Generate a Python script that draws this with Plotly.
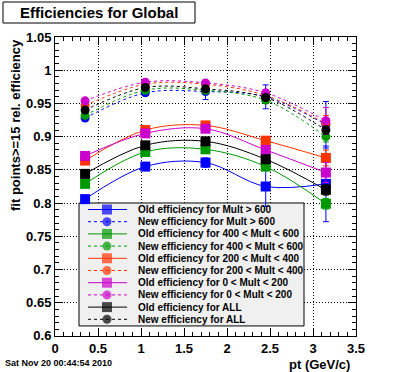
import plotly.graph_objects as go

# ---------------- data ----------------
pt = [0.35, 1.05, 1.75, 2.45, 3.15]

old_600 = [0.806, 0.855, 0.861, 0.825, 0.829]
new_600 = [0.928, 0.966, 0.968, 0.960, 0.918]
old_400 = [0.829, 0.877, 0.881, 0.855, 0.799]
new_400 = [0.932, 0.970, 0.970, 0.955, 0.900]
old_200 = [0.864, 0.910, 0.917, 0.894, 0.868]
new_200 = [0.947, 0.979, 0.979, 0.962, 0.920]
old_0 = [0.871, 0.905, 0.912, 0.880, 0.846]
new_0 = [0.954, 0.982, 0.981, 0.966, 0.924]
old_all = [0.844, 0.887, 0.893, 0.866, 0.820]
new_all = [0.940, 0.974, 0.972, 0.959, 0.910]

err_old_600 = [0.004, 0.004, 0.007, 0.030, 0.057]
err_new_600 = [0.003, 0.004, 0.012, 0.018, 0.035]
err_old_400 = [0.004, 0.004, 0.005, 0.006, 0.008]
err_new_400 = [0.002, 0.003, 0.003, 0.005, 0.008]
err_old_200 = [0.004, 0.004, 0.005, 0.006, 0.012]
err_new_200 = [0.002, 0.002, 0.003, 0.005, 0.012]
err_old_0 = [0.004, 0.004, 0.005, 0.007, 0.015]
err_new_0 = [0.002, 0.002, 0.003, 0.005, 0.020]
err_old_all = [0.002, 0.002, 0.003, 0.004, 0.008]
err_new_all = [0.001, 0.001, 0.002, 0.003, 0.006]

labels = [
    "Old efficiency for Mult > 600",
    "New efficiency for Mult > 600",
    "Old efficiency for 400 < Mult < 600",
    "New efficiency for 400 < Mult < 600",
    "Old efficiency for 200 < Mult < 400",
    "New efficiency for 200 < Mult < 400",
    "Old efficiency for 0 < Mult < 200",
    "New efficiency for 0 < Mult < 200",
    "Old efficiency for ALL",
    "New efficiency for ALL",
]

BLUE, GREEN, ORANGE, MAGENTA, BLACK = "#0000ff", "#009900", "#ff3300", "#cc00cc", "#000000"

series = [
    (old_600, err_old_600, BLUE, False),
    (new_600, err_new_600, BLUE, True),
    (old_400, err_old_400, GREEN, False),
    (new_400, err_new_400, GREEN, True),
    (old_200, err_old_200, ORANGE, False),
    (new_200, err_new_200, ORANGE, True),
    (old_0, err_old_0, MAGENTA, False),
    (new_0, err_new_0, MAGENTA, True),
    (old_all, err_old_all, BLACK, False),
    (new_all, err_new_all, BLACK, True),
]

FONT = "Liberation Sans, Arial, sans-serif"
DASH = "3px,3px"

# plot-area pixel geometry
L, R, T, B = 55, 356, 37, 336
W, H = 396, 372
X_RANGE = [0, 3.5]
Y_RANGE = [0.6, 1.05]


def pxx(px):
    return (px - L) / (R - L)


def pxy(py):
    return (B - py) / (B - T)


def datax(px):
    return X_RANGE[0] + pxx(px) * (X_RANGE[1] - X_RANGE[0])


def datay(py):
    return Y_RANGE[0] + pxy(py) * (Y_RANGE[1] - Y_RANGE[0])


fig = go.Figure()

for (vals, errs, col, is_new), name in zip(series, labels):
    fig.add_trace(go.Scatter(
        x=pt, y=vals, name=name, mode="lines+markers",
        line=dict(color=col, width=1, shape="spline", dash=DASH if is_new else "solid"),
        marker=dict(symbol="circle" if is_new else "square", size=9 if is_new else 10,
                    color=col, line=dict(width=0)),
        error_y=dict(type="data", array=errs, visible=True, color=col, thickness=1, width=3),
        showlegend=False,
    ))

# ---------------- custom legend (overlay pixel axes) ----------------
LEG_X0, LEG_X1, LEG_Y0, LEG_Y1 = 79, 304, 203, 326
shapes = [dict(type="rect", xref="x", yref="y", x0=datax(LEG_X0), x1=datax(LEG_X1),
               y0=datay(LEG_Y1), y1=datay(LEG_Y0),
               line=dict(color="black", width=1), fillcolor="#f0f0f0", layer="between")]
annotations = []
row0, drow = 209.5, 12.2
for i, ((vals, errs, col, is_new), name) in enumerate(zip(series, labels)):
    ry = row0 + i * drow
    fig.add_trace(go.Scatter(
        x=[88, 107, 127], y=[ry, ry, ry], xaxis="x2", yaxis="y2", mode="lines+markers",
        line=dict(color=col, width=1, dash=DASH if is_new else "solid"),
        marker=dict(symbol="circle" if is_new else "square", size=[0, 9 if is_new else 10, 0],
                    color=col, line=dict(width=0)),
        showlegend=False, hoverinfo="skip",
    ))
    annotations.append(dict(xref="paper", yref="paper", x=pxx(136), y=pxy(ry), xanchor="left",
                            yanchor="middle", align="left", text=name, showarrow=False,
                            font=dict(family=FONT, size=10, color="black", weight="bold")))

# title box
shapes.append(dict(type="rect", xref="paper", yref="paper", x0=pxx(3), x1=pxx(195),
                   y0=pxy(23), y1=pxy(2), line=dict(color="black", width=1), fillcolor="white"))
annotations.append(dict(xref="paper", yref="paper", x=pxx(99), y=pxy(12.5), xanchor="center",
                        yanchor="middle", text="Efficiencies for Global", showarrow=False,
                        font=dict(family=FONT, size=15, color="black", weight="bold")))
# axis titles
annotations.append(dict(xref="paper", yref="paper", x=pxx(352), y=pxy(364), xanchor="right",
                        yanchor="middle", text="pt (GeV/c)", showarrow=False,
                        font=dict(family=FONT, size=13, color="black", weight="bold")))
annotations.append(dict(xref="paper", yref="paper", x=pxx(15), y=pxy(37), xanchor="center",
                        yanchor="top", text="fit points>=15 rel. efficiency", showarrow=False,
                        textangle=-90,
                        font=dict(family=FONT, size=13, color="black", weight="bold")))
# date stamp
annotations.append(dict(xref="paper", yref="paper", x=pxx(3), y=pxy(363), xanchor="left",
                        yanchor="middle", text="Sat Nov 20 00:44:54 2010", showarrow=False,
                        font=dict(family=FONT, size=9, color="black", weight="bold")))

axis_common = dict(
    showline=True, linecolor="black", linewidth=1, mirror="allticks",
    ticks="inside", ticklen=8, tickcolor="black", tickwidth=1,
    showgrid=True, gridcolor="black", gridwidth=1, griddash="1px,2px",
    zeroline=False,
    tickfont=dict(family=FONT, size=13, color="black", weight="bold"),
)

fig.update_layout(
    width=W, height=H,
    margin=dict(l=L, r=W - R, t=T, b=H - B, pad=0),
    paper_bgcolor="white", plot_bgcolor="white",
    xaxis=dict(range=[X_RANGE[0], X_RANGE[1]], tick0=0, dtick=0.5,
               minor=dict(dtick=0.1, ticks="inside", ticklen=4, tickcolor="black", showgrid=False),
               **axis_common),
    yaxis=dict(range=[Y_RANGE[0] - 0.0001, Y_RANGE[1] + 0.0001], tick0=0.6, dtick=0.05,
               tickformat="~g",
               minor=dict(dtick=0.01, ticks="inside", ticklen=4, tickcolor="black", showgrid=False),
               **axis_common),
    xaxis2=dict(range=[L, R], overlaying="x", visible=False, fixedrange=True),
    yaxis2=dict(range=[B, T], overlaying="y", visible=False, fixedrange=True),
    shapes=shapes, annotations=annotations,
    showlegend=False, hovermode=False,
)

fig.write_html("out.html", config={"displayModeBar": False},
               post_script="document.body.style.margin='0';document.body.style.padding='0';")
